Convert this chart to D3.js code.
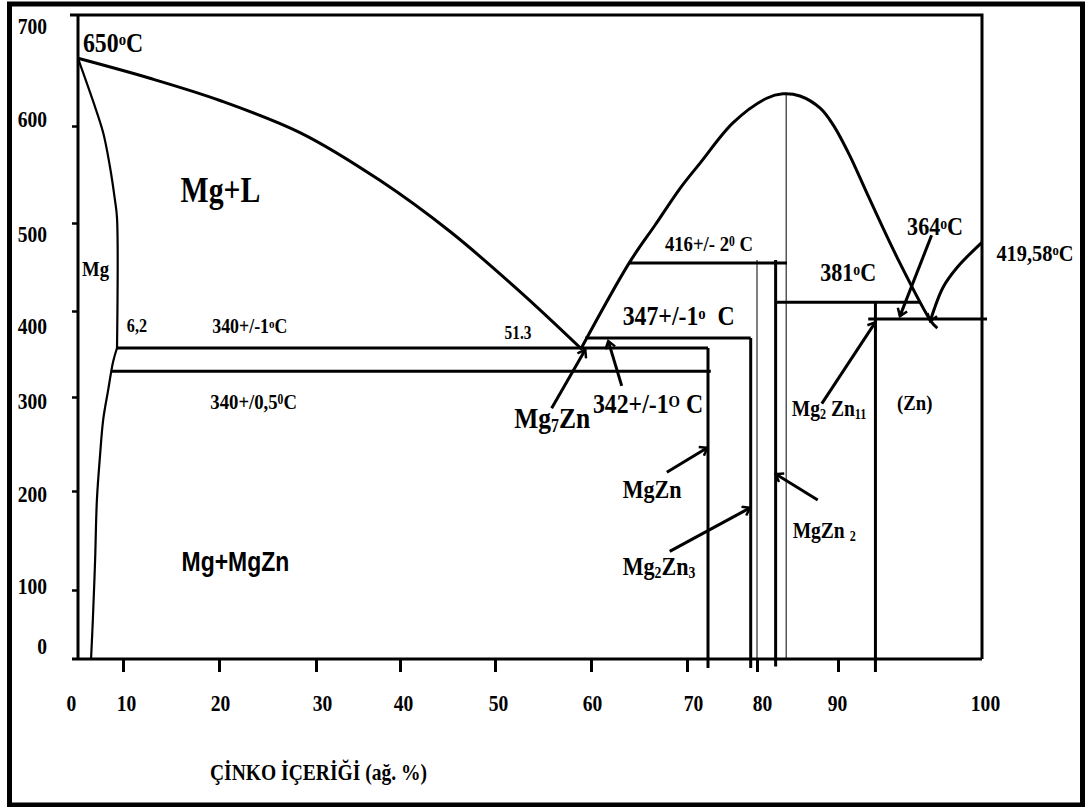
<!DOCTYPE html>
<meta charset="utf-8">
<script src="https://d3js.org/d3.v7.min.js"></script>
<style>
body { margin: 0; background: #fff; }
text { font-family: "Liberation Serif", "Times New Roman", serif; font-weight: bold; fill: #000; }
.tick text { font-size: 23px; }
.t18 { font-size: 18px; }
.t19 { font-size: 19px; }
.t21 { font-size: 21px; }
.t22 { font-size: 22px; }
.t23 { font-size: 23px; }
.t24 { font-size: 24px; }
.t26 { font-size: 26px; }
.t28 { font-size: 28px; }
.t30 { font-size: 30px; }
.t35 { font-size: 35px; }
.sans { font-family: "Liberation Sans", Arial, sans-serif; font-size: 27px; }
.line { fill: none; stroke: #000; stroke-width: 3; }
.thin { fill: none; stroke: #000; stroke-width: 1; }
.mid { fill: none; stroke: #000; stroke-width: 2.2; }
</style>
<div id="chart"></div>
<script>

// axis ticks
var xTicks = [0, 10, 20, 30, 40, 50, 60, 70, 80, 90, 100];
var yTicks = [0, 100, 200, 300, 400, 500, 600, 700];

// phase boundaries, [wt% Zn, temperature] as drawn
var liquidusMg = [[0, 661], [12.8, 643], [20.1, 623], [28.4, 593], [37.6, 544], [45.3, 490], [52.6, 422], [58.9, 357]];
var solidusMg = [[0, 661], [3.3, 623], [5.6, 593], [7.1, 558], [8.2, 524], [8.67, 505], [8.67, 357]];
var solvusMg = [[8.67, 357], [7.8, 341], [6.7, 308], [5.6, 276], [4.9, 238], [4.2, 191], [3.8, 130], [3.3, 57], [2.9, 0]];
var liquidusMid = [[58.9, 355], [64.0, 455], [66.7, 498], [69.3, 536], [71.9, 562], [76.6, 603], [81.2, 625], [83.2, 629],
                   [85.3, 627], [87.8, 616], [89.4, 601], [90.8, 570], [92.0, 531], [94.1, 461], [96.5, 387], [96.9, 380]];
var liquidusZn = [[100, 478], [98.3, 450], [97.3, 427], [96.4, 388]];

// isotherms [from, to, temperature]
var isotherms = [[8.67, 73.0, 357], [7.3, 73.4, 330], [59.4, 79.1, 368.6], [64.0, 83.7, 454.5], [82.3, 95.7, 410], [92.1, 100.35, 390.7]];

// compound lines [wt% Zn, top, bottom, thin?]
var compounds = [[73.0, 357, -13, 0], [79.1, 368.6, -13, 0], [80.0, 458, 0, 1], [82.3, 458, -11, 0], [83.6, 629, 0, 1], [92.6, 410, -19, 0]];

// pointer arrows [x1, t1, x2, t2]
var arrows = [[96.5, 486, 94.3, 394], [88.0, 293, 92.6, 387], [87.5, 191, 82.3, 218], [68.2, 139, 79.0, 183],
              [67.9, 220, 72.9, 246], [63.2, 313, 61.8, 365], [55.9, 288, 59.4, 355]];

// labels: text, [wt% Zn, temperature], class
var labels = [
  ["650^{o}C", [1.1, 666.7], "t28"],
  ["Mg+L", [16.0, 522], "t35"],
  ["Mg", [0.9, 440], "t22"],
  ["6,2", [10.4, 375.6], "t19"],
  ["340+/-1^{o}C", [19.3, 374.4], "t21"],
  ["340+/0,5^{0}C", [19.1, 287.2], "t22"],
  ["51.3", [51.0, 367.4], "t18"],
  ["Mg+MgZn", [16.1, 119.2], "sans"],
  ["Mg_{7}Zn", [52.0, 267], "t30"],
  ["342+/-1^{O} C", [60.2, 283], "t28"],
  ["347+/-1^{o}  C", [63.3, 383.7], "t28"],
  ["416+/- 2^{0} C", [67.7, 468.2], "t22"],
  ["381^{o}C", [87.8, 434.1], "t26"],
  ["364^{o}C", [94.8, 486.4], "t26"],
  ["419,58^{o}C", [101.0, 456.8], "t24"],
  ["Mg_{2} Zn_{11}", [84.3, 279.8], "t23"],
  ["(Zn)", [94.1, 286.2], "t22"],
  ["MgZn", [63.3, 192.9], "t26"],
  ["Mg_{2}Zn_{3}", [63.3, 115.2], "t26"],
  ["MgZn _{2}", [84.4, 152.5], "t23"]
];

var xTitle = "ÇİNKO İÇERİĞİ (ağ. %)";

var width = 1085, height = 807;
var squeeze = 0.85; // the lettering in the original is narrow

var svg = d3.select("#chart")
  .append("svg")
    .attr("width", width)
    .attr("height", height);

// the drawing is not to scale: each tick has its own place
var x = d3.scaleLinear()
  .domain(xTicks)
  .range([78, 123, 219, 316, 400, 495, 591, 687, 757, 838, 982]);
var y = d3.scaleLinear()
  .domain(yTicks)
  .range([659, 590, 491, 397, 311, 223, 126, 15]);

// outer frame
svg.append("rect")
  .attr("x", 9.5).attr("y", 4)
  .attr("width", 1073).attr("height", 801)
  .attr("fill", "none").attr("stroke", "#000").attr("stroke-width", 5);

// x ticks
var gx = svg.append("g")
  .attr("transform", "translate(0," + y(0) + ")")
  .call(d3.axisBottom(x).tickValues(xTicks.slice(1, -1)).tickSize(13).tickFormat(""));
gx.select(".domain").remove();
gx.selectAll(".tick line").attr("stroke-width", 3);

// x tick labels, nudged to where the original put them
var xNudge = {0: -7, 10: 3, 20: 1, 30: 6, 40: 3, 50: 3, 60: 1, 70: 6, 80: 5, 90: -1, 100: 3};
var gxl = svg.append("g")
  .attr("transform", "translate(0," + y(0) + ")")
  .call(d3.axisBottom(x).tickValues(xTicks).tickSize(0).tickPadding(36));
gxl.select(".domain").remove();
gxl.selectAll(".tick text")
  .attr("font-family", null).attr("font-size", null)
  .attr("dx", function(d) { return xNudge[d] / squeeze; })
  .attr("transform", "scale(" + squeeze + ",1)");

// y ticks
var gy = svg.append("g")
  .attr("transform", "translate(" + x(0) + ",0)")
  .call(d3.axisLeft(y).tickValues(yTicks.slice(1, -1)).tickSize(6).tickFormat(""));
gy.select(".domain").remove();
gy.selectAll(".tick line").attr("stroke-width", 2.5);

var yNudge = {0: -14, 100: -5, 200: 2, 300: 3, 400: 15, 500: 10, 600: -8, 700: 10};
var gyl = svg.append("g")
  .attr("transform", "translate(" + x(0) + ",0)")
  .call(d3.axisLeft(y).tickValues(yTicks).tickSize(0).tickPadding(31));
gyl.select(".domain").remove();
gyl.selectAll(".tick text")
  .attr("font-family", null).attr("font-size", null)
  .attr("x", -31 / squeeze)
  .attr("transform", "scale(" + squeeze + ",1)")
  .attr("dy", function(d) { return (yNudge[d] + 8) + "px"; });

// plot box
svg.append("path")
  .attr("class", "line").attr("stroke-width", 2.5)
  .attr("d", "M" + (x(0) - 8) + "," + y(700) + "H" + x(100) + "V" + y(0)
           + "M" + x(0) + "," + y(700) + "V" + y(0));
svg.append("path")
  .attr("class", "line").attr("stroke-width", 3.5)
  .attr("d", "M" + (x(0) - 6) + "," + y(0) + "H" + x(100));

// arrow head
svg.append("defs").append("marker")
  .attr("id", "head")
  .attr("viewBox", "-8 -6 10 12")
  .attr("markerUnits", "userSpaceOnUse")
  .attr("markerWidth", 10).attr("markerHeight", 12)
  .attr("refX", 0).attr("refY", 0)
  .attr("orient", "auto")
  .append("path")
    .attr("d", "M-7,-5L0,0L-7,5")
    .attr("fill", "none").attr("stroke", "#000").attr("stroke-width", 2.5);

var curve = d3.line()
  .x(function(d) { return x(d[0]); })
  .y(function(d) { return y(d[1]); })
  .curve(d3.curveCatmullRom.alpha(0.5));

svg.append("path").datum(liquidusMg).attr("class", "line").attr("d", curve);
svg.append("path").datum(solidusMg).attr("class", "mid").attr("d", curve);
svg.append("path").datum(solvusMg).attr("class", "mid").attr("d", curve);
svg.append("path").datum(liquidusMid).attr("class", "line").attr("d", curve);
svg.append("path").datum(liquidusZn).attr("class", "line").attr("d", curve)
  .attr("marker-end", "url(#head)");

// isotherms
svg.append("g").selectAll("line")
  .data(isotherms)
  .enter()
  .append("line")
    .attr("class", "line")
    .attr("x1", function(d) { return x(d[0]); })
    .attr("x2", function(d) { return x(d[1]); })
    .attr("y1", function(d) { return y(d[2]); })
    .attr("y2", function(d) { return y(d[2]); });

// intermetallic compounds
svg.append("g").selectAll("line")
  .data(compounds)
  .enter()
  .append("line")
    .attr("class", function(d) { return d[3] ? "thin" : "line"; })
    .attr("x1", function(d) { return x(d[0]); })
    .attr("x2", function(d) { return x(d[0]); })
    .attr("y1", function(d) { return y(d[1]); })
    .attr("y2", function(d) { return y(d[2]); });

// arrows
svg.append("g").selectAll("line")
  .data(arrows)
  .enter()
  .append("line")
    .attr("class", "line").attr("stroke-width", 2.5)
    .attr("x1", function(d) { return x(d[0]); })
    .attr("y1", function(d) { return y(d[1]); })
    .attr("x2", function(d) { return x(d[2]); })
    .attr("y2", function(d) { return y(d[3]); })
    .attr("marker-end", "url(#head)");

// "650^{o}C" -> plain / super / sub pieces
function pieces(s) {
  var out = [], re = /([\^_])\{([^}]*)\}|([^\^_]+)/g, m;
  while ((m = re.exec(s)) !== null) {
    if (m[3]) out.push({t: m[3], k: ""});
    else out.push({t: m[2], k: m[1] == "^" ? "super" : "sub"});
  }
  return out;
}

var lab = svg.append("g").selectAll("text")
  .data(labels)
  .enter()
  .append("text")
    .attr("class", function(d) { return d[2]; })
    .attr("transform", function(d) {
      return "translate(" + x(d[1][0]) + "," + y(d[1][1]) + ") scale(" + squeeze + ",1)";
    })
    .style("white-space", "pre");

lab.selectAll("tspan")
  .data(function(d) { return pieces(d[0]); })
  .enter()
  .append("tspan")
    .attr("font-size", function(p) { return p.k ? "62%" : null; })
    .attr("baseline-shift", function(p) { return p.k == "super" ? "40%" : (p.k == "sub" ? "-22%" : null); })
    .text(function(p) { return p.t; });

svg.append("text")
  .attr("class", "t23")
  .attr("transform", "translate(210,780) scale(" + squeeze + ",1)")
  .text(xTitle);

</script>
